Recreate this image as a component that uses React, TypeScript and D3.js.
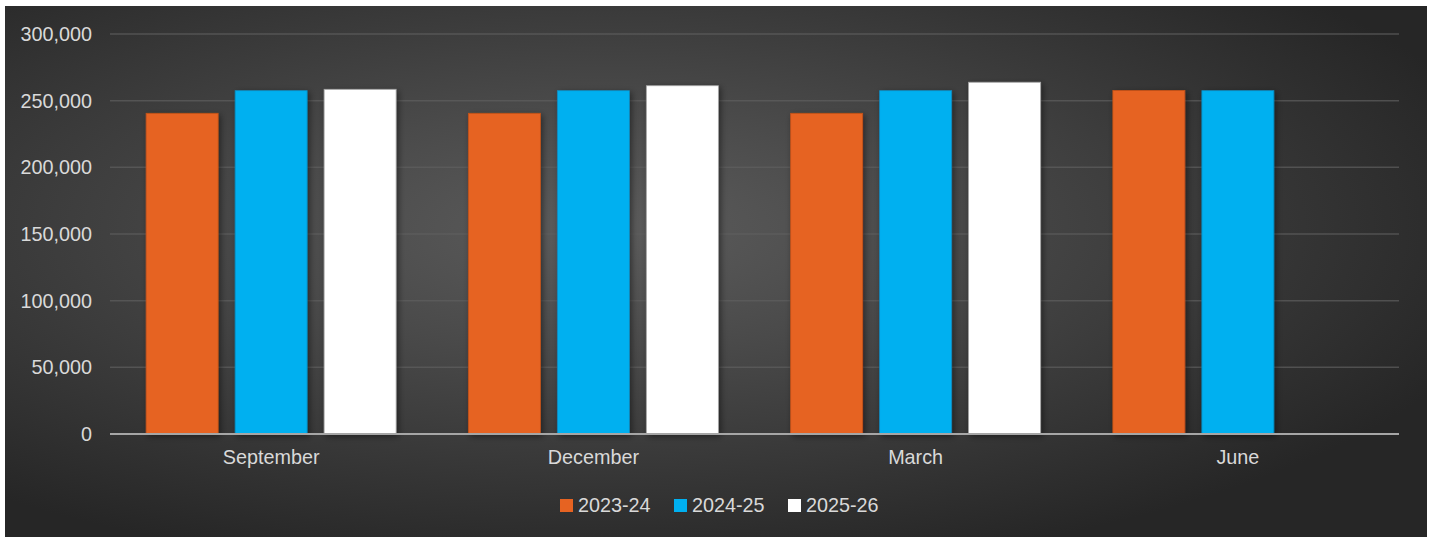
import React from "react";
import * as d3 from "d3";

const categories = ["September", "December", "March", "June"];
const seriesNames = ["2023-24", "2024-25", "2025-26"];
const series2023 = [240500, 240500, 240500, 257700];
const series2024 = [257500, 257500, 257500, 257500];
const series2025: (number | null)[] = [258500, 261200, 263800, null];
const yTicks = [0, 50000, 100000, 150000, 200000, 250000, 300000];
const seriesColors = ["#E66322", "#00B0F0", "#FFFFFF"];
const seriesStrokes = ["#C4521A", "#0A8CC0", "#A6A6A6"];

const W = 1434;
const H = 537;

export default function App() {
  const values = [series2023, series2024, series2025];
  const x = d3.scaleBand<string>().domain(categories).range([110, 1399]).paddingInner(0).paddingOuter(0);
  const xi = d3
    .scaleBand<string>()
    .domain(seriesNames)
    .range([0, x.bandwidth()])
    .paddingInner(0.191)
    .paddingOuter(0.406);
  const y = d3.scaleLinear().domain([0, 300000]).range([434, 34]);
  const fmt = d3.format(",");
  const font = "'Liberation Sans', Arial, sans-serif";
  const textColor = "#D9D9D9";
  const fs = 19.8;
  const legendStep = 114;
  const legendStart = 560;

  return (
    <svg
      width={W}
      height={H}
      style={{ position: "absolute", left: 0, top: 0, display: "block" }}
      fontFamily={font}
    >
      <defs>
        <radialGradient id="bg" cx="0.42" cy="0.42" r="0.66" fx="0.42" fy="0.42">
          <stop offset="0" stopColor="#5C5C5C" />
          <stop offset="0.35" stopColor="#4A4A4A" />
          <stop offset="1" stopColor="#262626" />
        </radialGradient>
        <filter id="shadow" x="-20%" y="-20%" width="140%" height="140%">
          <feDropShadow dx="2" dy="2" stdDeviation="3" floodColor="#000" floodOpacity="0.45" />
        </filter>
      </defs>
      <rect x={0} y={0} width={W} height={H} fill="#FFFFFF" />
      <rect x={5} y={6} width={1422} height={H - 6} fill="url(#bg)" />
      {yTicks.map((t) => (
        <g key={t}>
          {t !== 0 && (
            <line x1={110} x2={1399} y1={y(t)} y2={y(t)} stroke="#606060" strokeOpacity={0.7} strokeWidth={1.5} />
          )}
          <text x={92} y={y(t)} dy="0.35em" textAnchor="end" fill={textColor} fontSize={fs}>
            {fmt(t)}
          </text>
        </g>
      ))}
      {categories.map((c, ci) => (
        <g key={c}>
          {seriesNames.map((s, si) => {
            const v = values[si][ci];
            if (v == null) return null;
            const bx = (x(c) as number) + (xi(s) as number);
            return (
              <rect
                key={s}
                x={bx}
                y={y(v)}
                width={xi.bandwidth()}
                height={y(0) - y(v)}
                fill={seriesColors[si]}
                stroke={seriesStrokes[si]}
                strokeWidth={0.8}
                filter="url(#shadow)"
              />
            );
          })}
          <text
            x={(x(c) as number) + x.bandwidth() / 2}
            y={464}
            textAnchor="middle"
            fill={textColor}
            fontSize={fs}
          >
            {c}
          </text>
        </g>
      ))}
      <line x1={110} x2={1399} y1={y(0)} y2={y(0)} stroke="#A6A6A6" strokeWidth={2} />
      {seriesNames.map((s, si) => (
        <g key={s} transform={`translate(${legendStart + si * legendStep},0)`}>
          <rect x={0} y={499} width={13} height={13} fill={seriesColors[si]} />
          <text x={18} y={512} fill={textColor} fontSize={fs}>
            {s}
          </text>
        </g>
      ))}
    </svg>
  );
}
